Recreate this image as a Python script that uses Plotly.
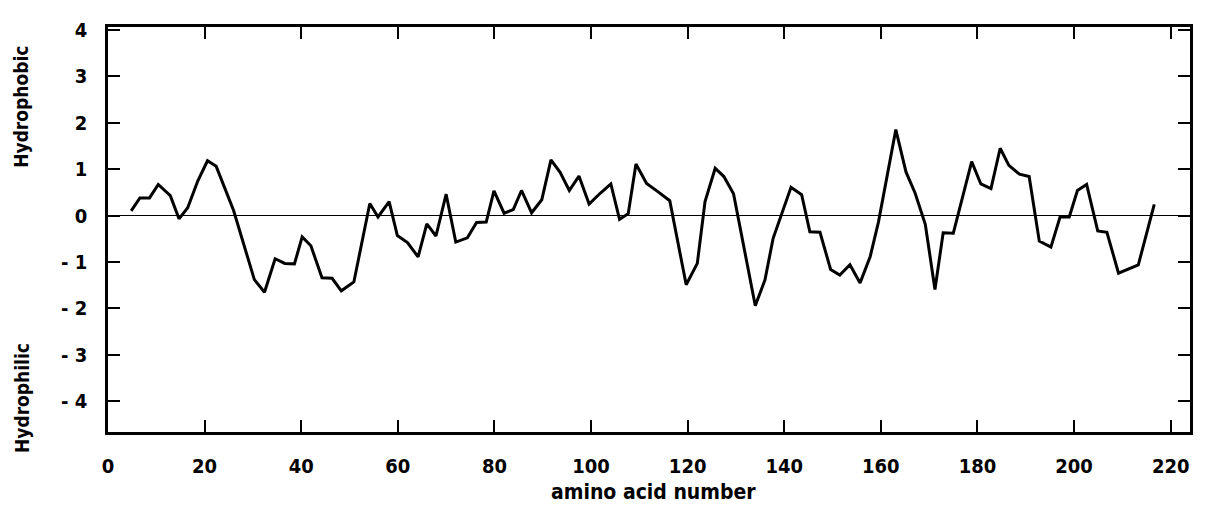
import plotly.graph_objects as go

# residue number (window centre) and hydropathy value
residue = [4.8, 6.6, 8.6, 10.4, 12.9, 14.7, 16.5, 18.6, 20.6, 22.4, 26.0, 30.3, 32.4,
           34.6, 36.6, 38.6, 40.2, 42.0, 44.3, 46.4, 48.3, 50.9, 54.2, 55.9, 58.2,
           59.9, 62.0, 64.2, 66.0, 67.9, 70.0, 72.0, 74.4, 76.3, 78.3, 79.9, 82.0,
           83.9, 85.6, 87.7, 89.8, 91.7, 93.6, 95.5, 97.5, 99.6, 101.9, 104.1, 105.9,
           107.7, 109.3, 111.5, 113.9, 116.3, 119.7, 122.0, 123.6, 125.7, 127.5, 129.5,
           134.0, 136.0, 137.7, 141.4, 143.6, 145.3, 147.4, 149.6, 151.5, 153.6, 155.7,
           157.8, 159.5, 163.1, 165.2, 167.1, 169.2, 171.2, 172.9, 175.0, 178.8, 180.7,
           182.8, 184.7, 186.5, 188.7, 190.7, 192.8, 195.2, 197.1, 199.0, 200.7, 202.6,
           204.9, 206.8, 209.2, 213.3, 216.6]
hydropathy = [0.10, 0.38, 0.38, 0.67, 0.43, -0.07, 0.17, 0.75, 1.18, 1.06, 0.11, -1.38, -1.65,
              -0.93, -1.03, -1.04, -0.46, -0.65, -1.34, -1.35, -1.62, -1.43, 0.26, -0.03, 0.30,
              -0.43, -0.58, -0.89, -0.18, -0.44, 0.46, -0.57, -0.48, -0.15, -0.14, 0.53, 0.05,
              0.13, 0.54, 0.06, 0.34, 1.20, 0.93, 0.54, 0.85, 0.25, 0.48, 0.68, -0.08,
              0.04, 1.11, 0.69, 0.51, 0.32, -1.49, -1.03, 0.30, 1.02, 0.84, 0.47,
              -1.94, -1.39, -0.49, 0.61, 0.45, -0.35, -0.36, -1.16, -1.28, -1.06, -1.45,
              -0.88, -0.14, 1.85, 0.94, 0.48, -0.19, -1.59, -0.37, -0.38, 1.16, 0.68,
              0.58, 1.45, 1.08, 0.89, 0.84, -0.55, -0.68, -0.03, -0.03, 0.54, 0.67,
              -0.33, -0.36, -1.24, -1.06, 0.24]

x_ticks = [0, 20, 40, 60, 80, 100, 120, 140, 160, 180, 200, 220]
y_ticks = [-4, -3, -2, -1, 0, 1, 2, 3, 4]
y_tick_text = ["- 4", "- 3", "- 2", "- 1", "0", "1", "2", "3", "4"]

FONT = "DejaVu Sans Condensed, Liberation Sans Narrow, DejaVu Sans, sans-serif"

fig = go.Figure()
fig.add_trace(go.Scatter(x=residue, y=hydropathy, mode="lines",
                         line=dict(color="black", width=3), showlegend=False))

fig.update_layout(
    width=1200, height=501,
    margin=dict(l=100, r=18, t=10, b=77),
    paper_bgcolor="white", plot_bgcolor="white",
    font=dict(family=FONT, color="black", size=20, weight="bold"),
    xaxis=dict(range=[0, 224], tickvals=x_ticks, ticks="inside", ticklen=12, tickwidth=2,
               tickcolor="black", showline=True, linecolor="black", linewidth=2.5,
               mirror="ticks", showgrid=False, zeroline=False, ticklabelstandoff=14,
               tickfont=dict(size=20, family=FONT, weight="bold")),
    yaxis=dict(range=[-4.66, 4.06], tickvals=y_ticks, ticktext=y_tick_text, ticks="inside",
               ticklen=12, tickwidth=2, tickcolor="black", showline=True, linecolor="black",
               linewidth=2.5, mirror="ticks", showgrid=False, zeroline=True,
               zerolinecolor="black", zerolinewidth=1.3, ticklabelstandoff=14,
               tickfont=dict(size=20, family=FONT, weight="bold")),
    annotations=[
        dict(text="amino acid number", xref="paper", yref="paper", x=0.504, y=-0.147,
             xanchor="center", yanchor="middle", showarrow=False,
             font=dict(size=21, family=FONT, weight="bold")),
        dict(text="Hydrophobic", xref="paper", yref="paper", x=-0.080, y=0.804,
             xanchor="center", yanchor="middle", textangle=-90, showarrow=False,
             font=dict(size=19, family=FONT, weight="bold")),
        dict(text="Hydrophilic", xref="paper", yref="paper", x=-0.080, y=0.085,
             xanchor="center", yanchor="middle", textangle=-90, showarrow=False,
             font=dict(size=19, family=FONT, weight="bold")),
    ],
)

fig.write_html("out.html")
